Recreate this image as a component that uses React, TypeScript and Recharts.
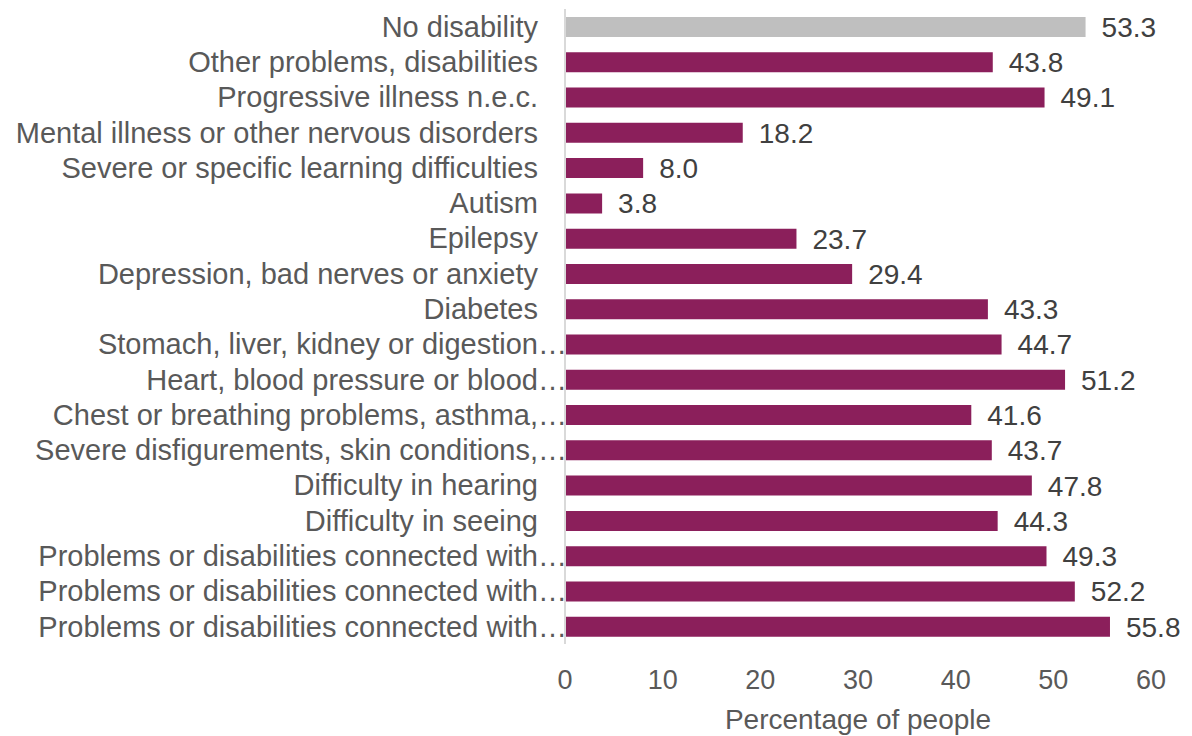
import { BarChart, Bar, XAxis, YAxis, Cell, LabelList } from "recharts";

// Rows from top to bottom, first row is the reference group
const labels = [
  "No disability",
  "Other problems, disabilities",
  "Progressive illness n.e.c.",
  "Mental illness or other nervous disorders",
  "Severe or specific learning difficulties",
  "Autism",
  "Epilepsy",
  "Depression, bad nerves or anxiety",
  "Diabetes",
  "Stomach, liver, kidney or digestion…",
  "Heart, blood pressure or blood…",
  "Chest or breathing problems, asthma,…",
  "Severe disfigurements, skin conditions,…",
  "Difficulty in hearing",
  "Difficulty in seeing",
  "Problems or disabilities connected with…",
  "Problems or disabilities connected with…",
  "Problems or disabilities connected with…",
];

const values = [53.3, 43.8, 49.1, 18.2, 8.0, 3.8, 23.7, 29.4, 43.3, 44.7, 51.2, 41.6, 43.7, 47.8, 44.3, 49.3, 52.2, 55.8];

const xTicks = [0, 10, 20, 30, 40, 50, 60];

const FONT = "'Liberation Sans', Arial, sans-serif";
const TEXT = "#595959";
const BAR = "#8B1F5B";
const BASELINE = "#BFBFBF";

const data = labels.map((_, i) => ({ key: String(i), value: values[i] }));

// Long names are clipped: the text ends with a gap before the axis and the ellipsis fills that gap
function CategoryTick(props: any) {
  const { x, y, payload } = props;
  const text: string = labels[payload.index] ?? "";
  const cut = text.endsWith("…");
  const body = cut ? text.slice(0, -1) : text;
  const right = x - 19;
  return (
    <g>
      <text x={right} y={y} dy="0.35em" textAnchor="end" fill={TEXT} fontSize={29} fontFamily={FONT}>
        {body}
      </text>
      {cut && (
        <text x={right} y={y} dy="0.35em" textAnchor="start" fill={TEXT} fontSize={29} fontFamily={FONT}>
          …
        </text>
      )}
    </g>
  );
}

export default function App() {
  return (
    <div style={{ position: "absolute", left: 0, top: 0, width: 1192, height: 736, background: "#fff" }}>
      <BarChart
        width={1192}
        height={736}
        data={data}
        layout="vertical"
        margin={{ top: 9, right: 41, left: 0, bottom: 0 }}
        barSize={20}
      >
        <XAxis
          type="number"
          domain={[0, 60]}
          ticks={xTicks}
          axisLine={false}
          tickLine={false}
          height={92}
          tickMargin={20}
          tick={{ fill: TEXT, fontSize: 27, fontFamily: FONT }}
          label={{ value: "Percentage of people", position: "insideBottom", offset: 7, fill: TEXT, fontSize: 28, fontFamily: FONT }}
        />
        <YAxis
          type="category"
          dataKey="key"
          width={565}
          axisLine={{ stroke: "#D9D9D9", strokeWidth: 2 }}
          tickLine={false}
          interval={0}
          tick={<CategoryTick />}
        />
        <Bar dataKey="value" isAnimationActive={false}>
          {data.map((d, i) => (
            <Cell key={d.key} fill={i === 0 ? BASELINE : BAR} />
          ))}
          <LabelList
            dataKey="value"
            position="right"
            offset={16}
            formatter={(v: any) => Number(v).toFixed(1)}
            fill="#404040"
            fontSize={28}
            fontFamily={FONT}
          />
        </Bar>
      </BarChart>
    </div>
  );
}
